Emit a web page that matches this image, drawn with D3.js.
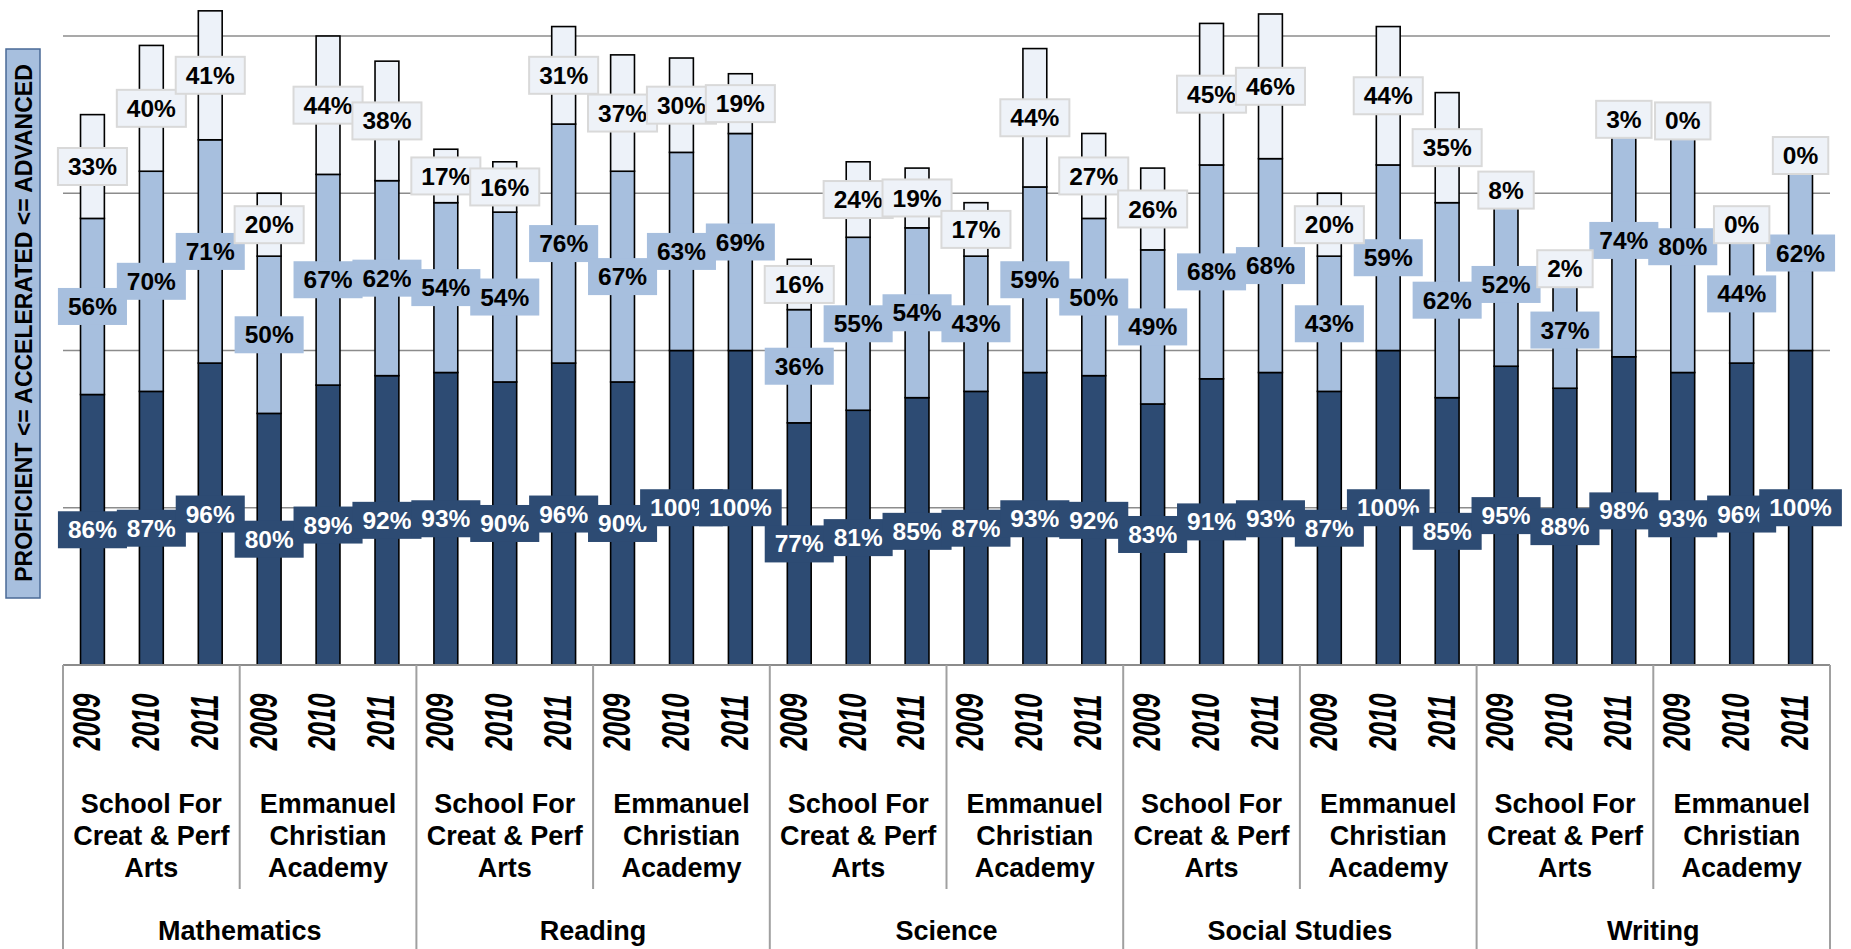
<!DOCTYPE html>
<html>
<head>
<meta charset="utf-8">
<script src="https://cdn.jsdelivr.net/npm/d3@7"></script>
<style>
  html, body { margin: 0; padding: 0; background: #ffffff; }
  svg { display: block; }
  text { font-family: "Liberation Sans", Arial, sans-serif; font-weight: bold; }
</style>
</head>
<body>
<svg id="chart" width="1851" height="949"></svg>
<script>
// ---- data ----
const subjects = ["Mathematics", "Reading", "Science", "Social Studies", "Writing"];
const schools = ["School For Creat & Perf Arts", "Emmanuel Christian Academy"];
const schoolLines = [["School For", "Creat & Perf", "Arts"], ["Emmanuel", "Christian", "Academy"]];
const years = ["2009", "2010", "2011"];
const proficient  = [86, 87, 96, 80, 89, 92,  93, 90, 96, 90, 100, 100,  77, 81, 85, 87, 93, 92,  83, 91, 93, 87, 100, 85,  95, 88, 98, 93, 96, 100];
const accelerated = [56, 70, 71, 50, 67, 62,  54, 54, 76, 67, 63, 69,   36, 55, 54, 43, 59, 50,  49, 68, 68, 43, 59, 62,   52, 37, 74, 80, 44, 62];
const advanced    = [33, 40, 41, 20, 44, 38,  17, 16, 31, 37, 30, 19,   16, 24, 19, 17, 44, 27,  26, 45, 46, 20, 44, 35,   8, 2, 3, 0, 0, 0];
const yTicks = [0, 50, 100, 150, 200];
const yTitle = "PROFICIENT <= ACCELERATED <= ADVANCED";

(function () {
// ---- build rows ----
const rows = [];
subjects.forEach((sub, si) => {
  schools.forEach((sch, ci) => {
    years.forEach((yr, yi) => {
      const i = rows.length;
      rows.push({ key: sub + "|" + sch + "|" + yr, subject: sub, school: sch, year: yr,
        p: proficient[i], a: accelerated[i], d: advanced[i] });
    });
  });
});

const colors = { p: "#2D4B73", a: "#A7BFDE", d: "#EDF2F9" };

const svg = d3.select("#chart");
const plotL = 63, plotR = 1830, plotB = 665, plotT = 36;

const x = d3.scaleBand().domain(rows.map(r => r.key)).range([plotL, plotR]).padding(0);
const y = d3.scaleLinear().domain([0, 200]).range([plotB, plotT]);
const barW = x.bandwidth() * 0.405;
const cx = k => x(k) + x.bandwidth() / 2;

// gridlines
svg.append("g").selectAll("line").data(yTicks.filter(t => t > 0)).join("line")
  .attr("x1", plotL).attr("x2", plotR)
  .attr("y1", d => y(d)).attr("y2", d => y(d))
  .attr("stroke", "#8C8C8C").attr("stroke-width", 1.6);

// stacked bars
const series = [
  { k: "p", lo: r => 0, hi: r => r.p },
  { k: "a", lo: r => r.p, hi: r => r.p + r.a },
  { k: "d", lo: r => r.p + r.a, hi: r => r.p + r.a + r.d }
];
const barG = svg.append("g");
series.forEach(s => {
  barG.append("g").selectAll("rect").data(rows.filter(r => s.hi(r) - s.lo(r) > 0)).join("rect")
    .attr("x", r => cx(r.key) - barW / 2)
    .attr("width", barW)
    .attr("y", r => y(s.hi(r)))
    .attr("height", r => y(s.lo(r)) - y(s.hi(r)))
    .attr("fill", colors[s.k])
    .attr("stroke", "#000").attr("stroke-width", 1.6);
});

// axis line
svg.append("line").attr("x1", plotL).attr("x2", plotR).attr("y1", plotB).attr("y2", plotB)
  .attr("stroke", "#8C8C8C").attr("stroke-width", 2);

// data labels
const labelG = svg.append("g");
const labelStyle = {
  p: { fill: colors.p, stroke: "none", text: "#FFFFFF" },
  a: { fill: colors.a, stroke: "none", text: "#000000" },
  d: { fill: "#EEF2F8", stroke: "#D9D9D9", text: "#000000" }
};
series.forEach(s => {
  rows.forEach(r => {
    const v = s.hi(r) - s.lo(r);
    const ly = y((s.hi(r) + s.lo(r)) / 2);
    const g = labelG.append("g");
    const st = labelStyle[s.k];
    const rect = g.append("rect");
    const t = g.append("text")
      .attr("x", cx(r.key)).attr("y", ly).attr("dy", "0.35em")
      .attr("text-anchor", "middle")
      .attr("font-size", 24.5)
      .attr("fill", st.text)
      .text(v + "%");
    const w = t.node().getComputedTextLength() + 20;
    const h = 37;
    rect.attr("x", cx(r.key) - w / 2).attr("y", ly - h / 2)
      .attr("width", w).attr("height", h)
      .attr("fill", st.fill)
      .attr("stroke", st.stroke).attr("stroke-width", st.stroke === "none" ? 0 : 2);
  });
});

// x axis: years
const axG = svg.append("g");
rows.forEach(r => {
  axG.append("text")
    .attr("transform", `translate(${cx(r.key) - 6},722) rotate(-90) scale(1,1.5)`)
    .attr("text-anchor", "middle").attr("dy", "0.35em")
    .attr("font-size", 25.5).attr("font-style", "italic")
    .attr("fill", "#000")
    .text(r.year);
});

// school labels
const step = x.step();
subjects.forEach((sub, si) => {
  schools.forEach((sch, ci) => {
    const first = rows.find(r => r.subject === sub && r.school === sch);
    const x0 = x(first.key);
    const gc = x0 + step * years.length / 2;
    schoolLines[ci].forEach((ln, li) => {
      axG.append("text")
        .attr("x", gc).attr("y", 813 + li * 32)
        .attr("text-anchor", "middle").attr("font-size", 27)
        .attr("fill", "#000").text(ln);
    });
    if (ci > 0) {
      axG.append("line").attr("x1", x0).attr("x2", x0).attr("y1", plotB).attr("y2", 889)
        .attr("stroke", "#A0A0A0").attr("stroke-width", 2);
    }
  });
  const firstS = rows.find(r => r.subject === sub);
  const sx0 = x(firstS.key);
  const sc = sx0 + step * years.length * schools.length / 2;
  axG.append("text").attr("x", sc).attr("y", 940)
    .attr("text-anchor", "middle").attr("font-size", 27).attr("fill", "#000").text(sub);
  axG.append("line").attr("x1", sx0).attr("x2", sx0).attr("y1", plotB).attr("y2", 949)
    .attr("stroke", "#A0A0A0").attr("stroke-width", 2);
});
axG.append("line").attr("x1", plotR).attr("x2", plotR).attr("y1", plotB).attr("y2", 949)
  .attr("stroke", "#A0A0A0").attr("stroke-width", 2);

// y axis title
svg.append("rect").attr("x", 6).attr("y", 49).attr("width", 34).attr("height", 549)
  .attr("fill", "#A7BFDE").attr("stroke", "#4A6A96").attr("stroke-width", 1.5);
svg.append("text")
  .attr("transform", "translate(24,323) rotate(-90)")
  .attr("text-anchor", "middle").attr("dy", "0.35em")
  .attr("font-size", 23).attr("fill", "#000")
  .text(yTitle);
})();
</script>
</body>
</html>
